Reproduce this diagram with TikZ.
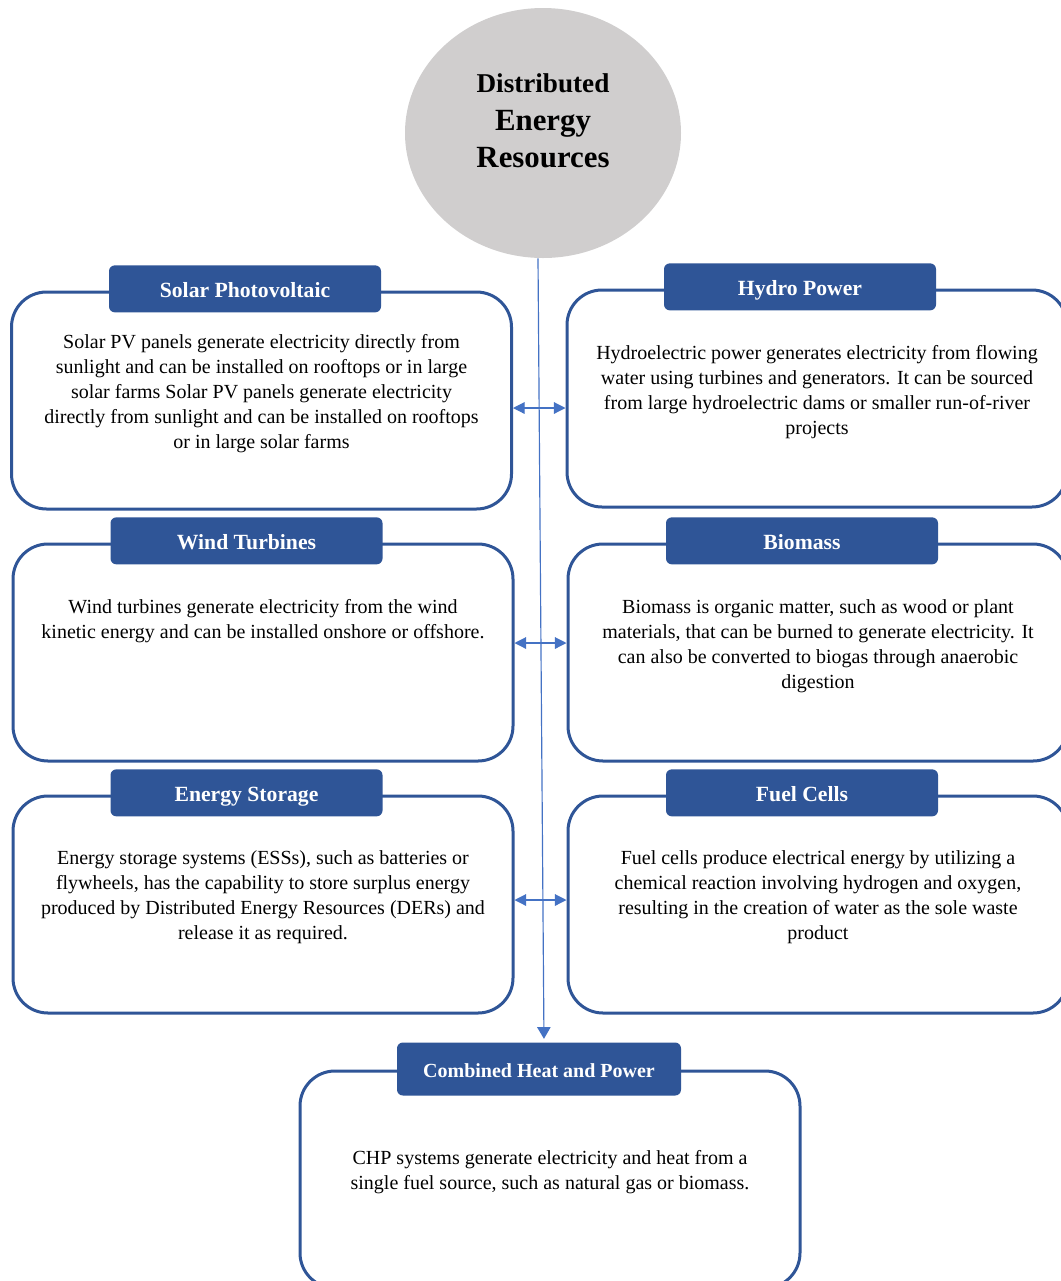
\documentclass[tikz,border=0pt]{standalone}
\usepackage{fontspec}
\setmainfont{Liberation Serif}
\usepackage{xcolor}
\usetikzlibrary{calc, shapes.geometric, arrows.meta}
\definecolor{derblue}{RGB}{47,85,151}
\definecolor{linkblue}{RGB}{68,114,196}
\definecolor{hubgray}{RGB}{208,206,206}
\tikzstyle{twoway} = [linkblue, line width=0.7pt, {Triangle[length=7pt,width=7pt]}-{Triangle[length=7pt,width=7pt]}]
\tikzstyle{oneway} = [linkblue, line width=0.7pt, -{Triangle[length=7pt,width=8pt]}, shorten >=2pt]

\begin{document}
\begin{tikzpicture}[
    x=0.6pt, y=-0.6pt,
    hub/.style={ellipse, fill=hubgray, minimum width=165.6pt, minimum height=150pt, inner sep=0pt},
    hubtitle/.style={align=center, font=\fontsize{18.5}{22.5}\selectfont\bfseries},
    card/.style={draw=derblue, line width=1.8pt, rounded corners=21pt, fill=white,
      minimum width=300pt, minimum height=130.2pt, inner sep=0pt},
    cardhead/.style={fill=derblue, rounded corners=3.5pt, text=white, text height=13pt, text depth=2.5pt,
      font=\fontsize{13}{15}\selectfont\bfseries, minimum width=163.2pt, minimum height=28.2pt, inner sep=0pt},
    cardtext/.style={align=center, font=\fontsize{12}{15}\selectfont},
  ]
  \useasboundingbox (0,0) rectangle (1061,1281);

  % centre
  \node[hub] (der) at (543,133) {};
  \node[hubtitle] (dertitle) at (543,121) {{\fontsize{16.3}{22.5}\selectfont Distributed}\\Energy\\Resources};

  % left column
  \node[card] (solar) at (261.5,400.5) {};
  \node[cardhead] (solarhead) at ([xshift=-9.9pt,yshift=1pt]solar.north) {Solar Photovoltaic};
  \node[cardtext] (solartext) at ([yshift=4pt]solar.center) {Solar PV panels generate electricity directly from\\
    sunlight and can be installed on rooftops or in large\\
    solar farms Solar PV panels generate electricity\\
    directly from sunlight and can be installed on rooftops\\
    or in large solar farms};

  \node[card] (wind) at (263,652.5) {};
  \node[cardhead] (windhead) at ([xshift=-9.9pt,yshift=1pt]wind.north) {Wind Turbines};
  \node[cardtext] (windtext) at ([yshift=18.6pt]wind.center) {Wind turbines generate electricity from the wind\\
    kinetic energy and can be installed onshore or offshore.};

  \node[card] (storage) at (263,904.5) {};
  \node[cardhead] (storagehead) at ([xshift=-9.9pt,yshift=1pt]storage.north) {Energy Storage};
  \node[cardtext] (storagetext) at ([yshift=4.2pt]storage.center) {Energy storage systems (ESSs), such as batteries or\\
    flywheels, has the capability to store surplus energy\\
    produced by Distributed Energy Resources (DERs) and\\
    release it as required.};

  % right column
  \node[card] (hydro) at (817,398.5) {};
  \node[cardhead] (hydrohead) at ([xshift=-10.2pt,yshift=1pt]hydro.north) {Hydro Power};
  \node[cardtext] (hydrotext) at ([yshift=3.6pt]hydro.center) {Hydroelectric power generates electricity from flowing\\
    water using turbines and generators. It can be sourced\\
    from large hydroelectric dams or smaller run-of-river\\
    projects};

  \node[card] (biomass) at (818,652.5) {};
  \node[cardhead] (biomasshead) at ([xshift=-9.6pt,yshift=1pt]biomass.north) {Biomass};
  \node[cardtext] (biomasstext) at ([yshift=4pt]biomass.center) {Biomass is organic matter, such as wood or plant\\
    materials, that can be burned to generate electricity. It\\
    can also be converted to biogas through anaerobic\\
    digestion};

  \node[card] (fuel) at (818,904.5) {};
  \node[cardhead] (fuelhead) at ([xshift=-9.6pt,yshift=1pt]fuel.north) {Fuel Cells};
  \node[cardtext] (fueltext) at ([yshift=4.2pt]fuel.center) {Fuel cells produce electrical energy by utilizing a\\
    chemical reaction involving hydrogen and oxygen,\\
    resulting in the creation of water as the sole waste\\
    product};

  % bottom
  \node[card] (chp) at (550,1179.5) {};
  \node[cardhead, font=\fontsize{12}{15}\selectfont\bfseries, minimum width=170.4pt, minimum height=31.8pt]
    (chphead) at ([xshift=-6.6pt,yshift=0.3pt]chp.north) {Combined Heat and Power};
  \node[cardtext] (chptext) at ([yshift=4.2pt]chp.center) {CHP systems generate electricity and heat from a\\
    single fuel source, such as natural gas or biomass.};

  % links
  \draw[oneway] ([xshift=-3pt]der.south) -- ([xshift=3pt]chphead.north);
  \coordinate (solarlink) at ([yshift=-4.5pt]solar.east);
  \coordinate (windlink) at ([yshift=5.7pt]wind.east);
  \coordinate (storagelink) at ([yshift=2.7pt]storage.east);
  \draw[twoway] (solarlink) -- (solarlink -| hydro.west);
  \draw[twoway] (windlink) -- (windlink -| biomass.west);
  \draw[twoway] (storagelink) -- (storagelink -| fuel.west);
\end{tikzpicture}
\end{document}
